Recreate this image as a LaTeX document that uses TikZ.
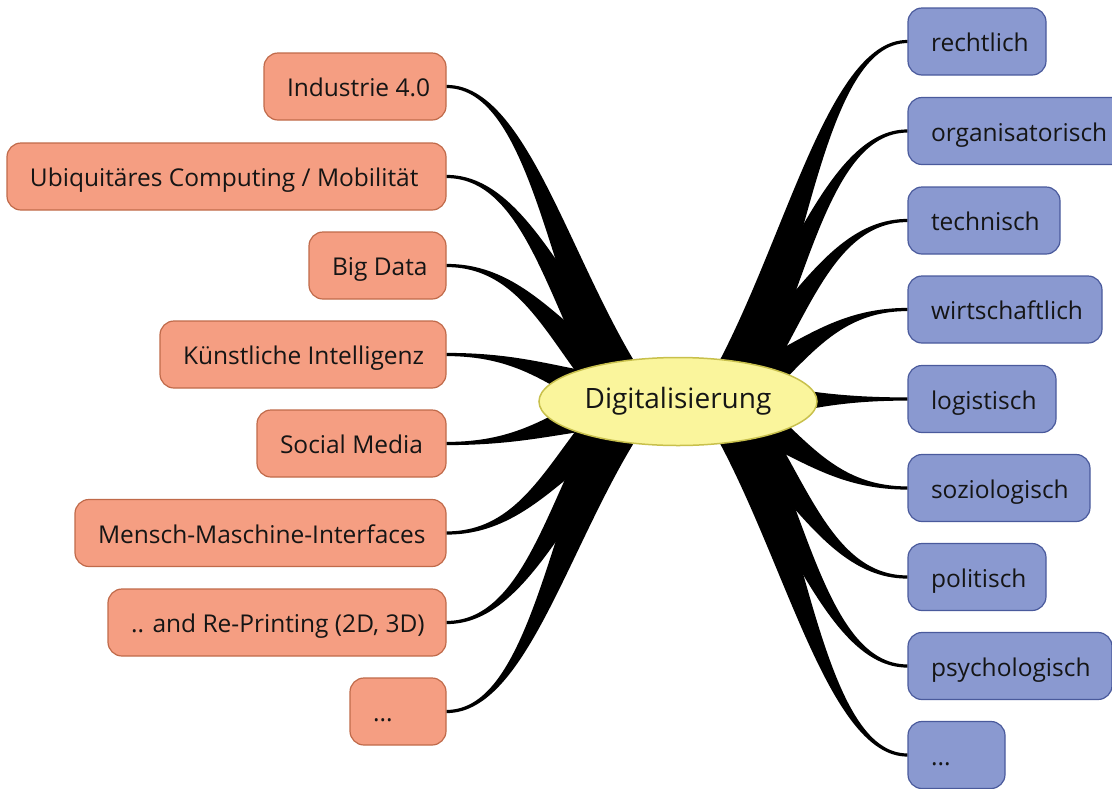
\documentclass[tikz,border=0pt]{standalone}
\usepackage{fontspec}
\setmainfont{Open Sans}
\usetikzlibrary{calc,shapes.geometric}
\definecolor{lfill}{HTML}{F59E82}
\definecolor{ldraw}{HTML}{C06A4A}
\definecolor{rfill}{HTML}{8A99D0}
\definecolor{rdraw}{HTML}{4A5A9C}
\definecolor{efill}{HTML}{FAF59C}
\definecolor{edraw}{HTML}{C8C04C}
\definecolor{txt}{HTML}{151515}
\newcommand{\branch}[3]{%
  \coordinate (bE) at (#1);
  \coordinate (bS) at (#2);
  \coordinate (bA) at ($(bE)!0.45!(bE -| bS)$);
  \coordinate (bB) at ($(bS)!0.38!(bE)$);
  \fill[black] ($(bE)!1.6pt!-90:(bA)$) .. controls ($(bA)!1.6pt!90:(bE)$) and ($(bB)!#3!-90:(bS)$) .. ($(bS)!24pt!90:(bB)$)
    -- ($(bS)!24pt!-90:(bB)$) .. controls ($(bB)!#3!90:(bS)$) and ($(bA)!1.6pt!-90:(bE)$) .. ($(bE)!1.6pt!90:(bA)$) -- cycle;
}
\newcommand{\bt}[2]{\makebox[#1][l]{#2}}
\tikzset{
  box/.style={rounded corners=14pt, line width=1.2pt, minimum height=67pt, inner xsep=23pt, inner ysep=0pt,
    text height=20pt, text depth=0pt, text=txt, font=\fontsize{24.5}{29}\selectfont},
  lbox/.style={box, fill=lfill, draw=ldraw},
  rbox/.style={box, fill=rfill, draw=rdraw},
  center/.style={ellipse, fill=efill, draw=edraw, line width=1.5pt, minimum width=278pt, minimum height=88pt,
    inner sep=0pt, text=txt, font=\fontsize{28}{33}\selectfont}
}
\begin{document}
\begin{tikzpicture}[x=1pt,y=-1pt]
\useasboundingbox (0,0) rectangle (1112,788);
\clip (0,0) rectangle (1112,788);
% left nodes
\node[lbox] (l1) at (355,86.5) {\bt{136pt}{Industrie 4.0}};
\node[lbox] (l2) at (226.5,176.5) {\bt{393pt}{Ubiquitäres Computing / Mobilität}};
\node[lbox] (l3) at (377.5,265.5) {\bt{91pt}{Big Data}};
\node[lbox] (l4) at (303,354.5) {\bt{240pt}{Künstliche Intelligenz}};
\node[lbox] (l5) at (351.5,443.5) {\bt{143pt}{Social Media}};
\node[lbox] (l6) at (260.5,533) {\bt{325pt}{Mensch-Maschine-Interfaces}};
\node[lbox] (l7) at (277,622.5) {\bt{292pt}{.. and Re-Printing (2D, 3D)}};
\node[lbox] (l8) at (398,711.5) {\bt{50pt}{...}};
% right nodes
\node[rbox] (r1) at (977,41.5) {\bt{92pt}{rechtlich}};
\node[rbox] (r2) at (1019,131) {\bt{176pt}{organisatorisch}};
\node[rbox] (r3) at (984,220.5) {\bt{106pt}{technisch}};
\node[rbox] (r4) at (1005,309.5) {\bt{148pt}{wirtschaftlich}};
\node[rbox] (r5) at (982,399) {\bt{102pt}{logistisch}};
\node[rbox] (r6) at (999,488) {\bt{136pt}{soziologisch}};
\node[rbox] (r7) at (977,577) {\bt{92pt}{politisch}};
\node[rbox] (r8) at (1010,666) {\bt{158pt}{psychologisch}};
\node[rbox] (r9) at (956.5,755) {\bt{51pt}{...}};
% hubs
\coordinate (sL) at (632,402);
\coordinate (sR) at (724,402);
\foreach \n in {l1,l2,l3,l4,l5,l6,l7,l8} {\branch{\n.east}{sL}{13pt}}
\foreach \n in {r1,r2,r3,r4,r5,r6,r7,r8,r9} {\branch{\n.west}{sR}{13pt}}
\node[center] (c) at (678,401.5) {Digitalisierung};
\end{tikzpicture}
\end{document}
